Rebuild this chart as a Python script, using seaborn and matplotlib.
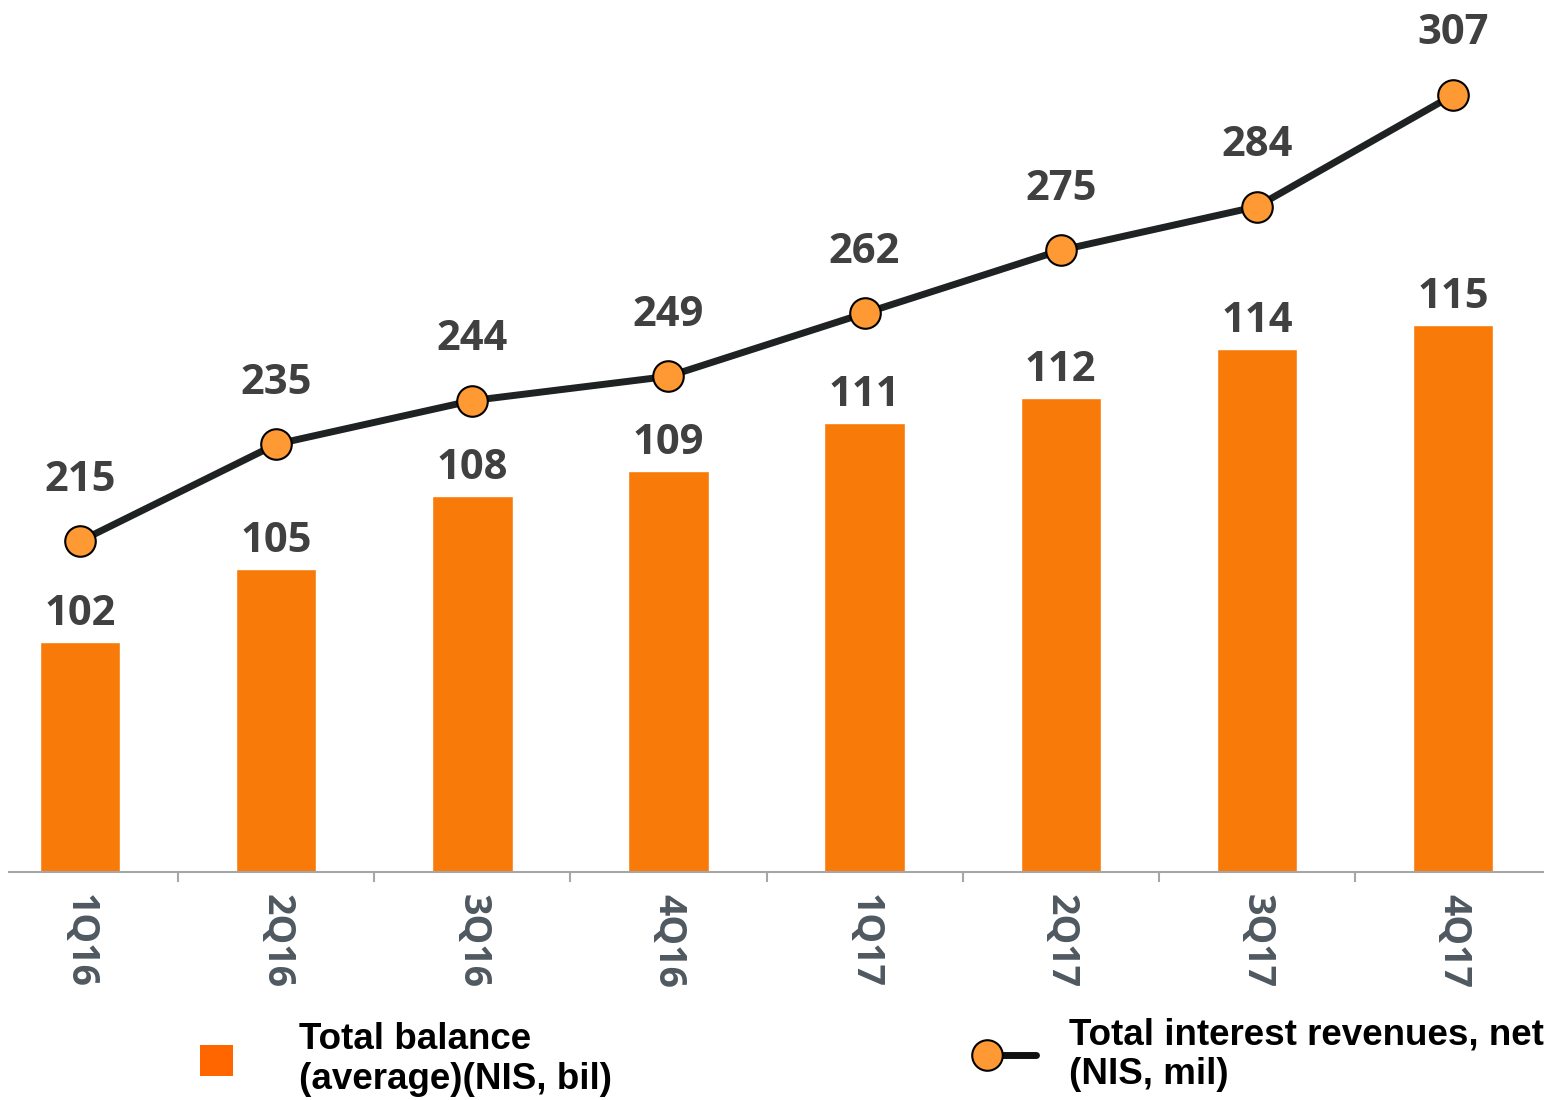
import matplotlib
matplotlib.use("Agg")
from matplotlib import pyplot as plt
from matplotlib.lines import Line2D
from matplotlib.patches import Patch
import seaborn as sns
import numpy as np
import pandas as pd

# Quarterly data
quarters = ['1Q16', '2Q16', '3Q16', '4Q16', '1Q17', '2Q17', '3Q17', '4Q17']
balance = [102, 105, 108, 109, 111, 112, 114, 115]      # NIS, bil
revenues = [215, 235, 244, 249, 262, 275, 284, 307]     # NIS, mil

BAR_COLOR = '#F87A08'
LEGEND_BAR_COLOR = '#FF6600'
MARKER_FACE = '#FF9933'
LINE_COLOR = '#1E2222'
LABEL_GRAY = '#404040'
TICK_GRAY = '#4F5860'
AXIS_GRAY = '#A6A6A6'


class MarkerLeftHandler:
    """Legend handle: marker on the left end, line running to the right."""
    def legend_artist(self, legend, orig_handle, fontsize, handlebox):
        x0, y0 = handlebox.xdescent, handlebox.ydescent
        w, h = handlebox.width, handlebox.height
        yc = y0 + h / 2
        line = Line2D([x0, x0 + w], [yc, yc], color=orig_handle.get_color(),
                      linewidth=orig_handle.get_linewidth(),
                      transform=handlebox.get_transform())
        mark = Line2D([x0], [yc], linestyle='none', marker='o',
                      markersize=orig_handle.get_markersize(),
                      markerfacecolor=orig_handle.get_markerfacecolor(),
                      markeredgecolor=orig_handle.get_markeredgecolor(),
                      markeredgewidth=orig_handle.get_markeredgewidth(),
                      transform=handlebox.get_transform())
        handlebox.add_artist(line)
        handlebox.add_artist(mark)
        return line


sns.set_style('white')
plt.rcParams['font.family'] = ['Open Sans', 'DejaVu Sans']

df = pd.DataFrame({'quarter': quarters, 'balance': balance, 'revenue': revenues})
df['pos'] = np.arange(len(df))

fig = plt.figure(figsize=(15.44, 11), dpi=100)
ax = fig.add_axes([0.0061, 0.2073, 0.9985, 0.7927])

sns.barplot(data=df, x='pos', y='balance', native_scale=True, color=BAR_COLOR,
            saturation=1, width=0.41, ax=ax)
ax.set_xlim(-0.36, 7.5)
ax.set_ylim(92.6, 128.3)
ax.bar_label(ax.containers[0], padding=5, fontsize=30, fontweight='bold', color=LABEL_GRAY)

# line on its own scale
ax2 = ax.twinx()
sns.lineplot(data=df, x='pos', y='revenue', ax=ax2, color=LINE_COLOR, linewidth=5,
             marker='o', markersize=22, markerfacecolor=MARKER_FACE,
             markeredgecolor='black', markeredgewidth=1.5)
ax2.set_ylim(146.8, 326.6)
for i, v in zip(df['pos'], df['revenue']):
    ax2.annotate(f'{v}', (i, v), xytext=(0, 44), textcoords='offset points',
                 ha='center', va='center', fontsize=30, fontweight='bold', color=LABEL_GRAY)

# axes styling
for a in (ax, ax2):
    for side in ('top', 'left', 'right'):
        a.spines[side].set_visible(False)
    a.set_yticks([])
    a.set_ylabel('')
ax2.spines['bottom'].set_visible(False)
ax.spines['bottom'].set_color(AXIS_GRAY)
ax.spines['bottom'].set_linewidth(1.5)

ax.set_xlabel('')
ax.set_xticks(df['pos'])
ax.set_xticklabels(quarters, rotation=270, ha='center', va='top',
                   fontsize=27, fontweight='bold', color=TICK_GRAY)
ax.set_xticks(np.arange(0.5, len(quarters) - 1), minor=True)
ax.tick_params(axis='x', which='major', length=0, pad=16)
ax.tick_params(axis='x', which='minor', bottom=True, length=7, width=1.5,
               color=AXIS_GRAY, direction='out')
ax2.set_xlabel('')

# legends
leg_font = dict(family='Liberation Sans', weight='bold', size=26.5)
bal_handle = Patch(facecolor=LEGEND_BAR_COLOR, edgecolor='none')
rev_handle = Line2D([], [], color='#111111', linewidth=5, marker='o', markersize=22,
                    markerfacecolor=MARKER_FACE, markeredgecolor='black',
                    markeredgewidth=1.5)
fig.legend(handles=[bal_handle], labels=['Total balance\n(average)(NIS, bil)'],
           loc='upper left', bbox_to_anchor=(200 / 1544, 1 - 1022 / 1100),
           frameon=False, borderpad=0, borderaxespad=0, handlelength=0.9,
           handleheight=0.9, handletextpad=1.8, prop=leg_font, labelcolor='black')
fig.legend(handles=[rev_handle], labels=['Total interest revenues, net\n(NIS, mil)'],
           loc='upper left', bbox_to_anchor=(987 / 1544, 1 - 1017 / 1100),
           frameon=False, borderpad=0, borderaxespad=0, handlelength=1.33,
           handletextpad=0.9, prop=leg_font, labelcolor='black',
           handler_map={Line2D: MarkerLeftHandler()})

fig.savefig('out.png', dpi=100)
